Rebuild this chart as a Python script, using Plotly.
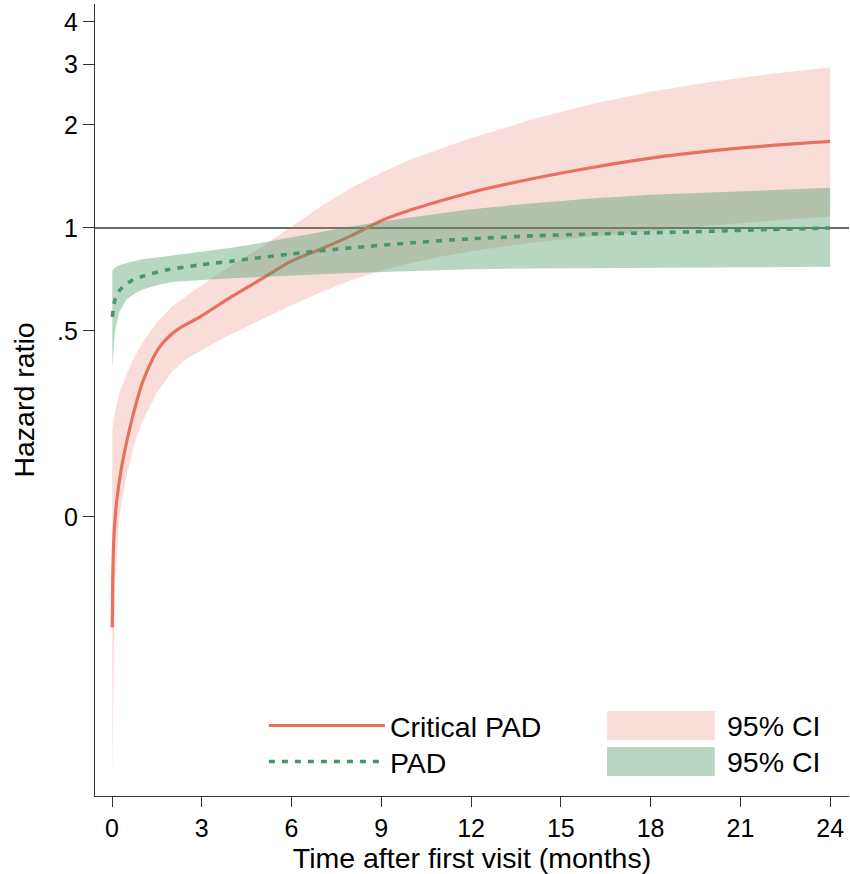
import plotly.graph_objects as go

# ---- data ----
# Critical PAD hazard ratio
crit_t = [0.01, 0.03, 0.07, 0.16, 0.32, 0.55, 0.82, 1.05, 1.6, 2.16, 2.94, 4, 5, 6, 7, 8, 9, 10, 12, 14, 16, 18, 20, 22, 24]
crit_hr = [0.068, 0.10, 0.128, 0.16, 0.20, 0.25, 0.31, 0.36, 0.45, 0.503, 0.55, 0.63, 0.71, 0.80, 0.87, 0.95, 1.05, 1.13, 1.27, 1.39, 1.50, 1.60, 1.68, 1.74, 1.79]

# PAD hazard ratio
pad_t = [0.01, 0.1, 0.27, 0.6, 1.05, 1.83, 2.94, 4, 5, 6, 8, 10, 12, 14, 16, 18, 20, 22, 24]
pad_hr = [0.55, 0.617, 0.66, 0.697, 0.724, 0.754, 0.78, 0.80, 0.82, 0.84, 0.875, 0.905, 0.93, 0.948, 0.96, 0.968, 0.978, 0.99, 1.0]

# 95% CI grid
ci_t = [0.01, 0.1, 0.25, 0.5, 0.75, 1, 1.5, 2, 2.5, 3, 4, 5, 6, 7, 8, 9, 10, 11, 12, 14, 16, 18, 20, 22, 24]
crit_hi = [0.26, 0.29, 0.33, 0.375, 0.42, 0.46, 0.53, 0.59, 0.635, 0.68, 0.78, 0.88, 1.01, 1.16, 1.31, 1.45, 1.59, 1.71, 1.83, 2.07, 2.30, 2.50, 2.67, 2.82, 2.95]
crit_lo = [0.025, 0.09, 0.145, 0.19, 0.235, 0.27, 0.33, 0.38, 0.415, 0.44, 0.49, 0.54, 0.595, 0.65, 0.705, 0.75, 0.79, 0.825, 0.855, 0.905, 0.945, 0.98, 1.015, 1.05, 1.08]
pad_hi = [0.75, 0.765, 0.78, 0.79, 0.80, 0.81, 0.82, 0.83, 0.84, 0.85, 0.875, 0.905, 0.94, 0.975, 1.01, 1.045, 1.075, 1.105, 1.135, 1.18, 1.22, 1.25, 1.27, 1.29, 1.31]
pad_lo = [0.39, 0.50, 0.57, 0.62, 0.642, 0.66, 0.68, 0.695, 0.70, 0.705, 0.713, 0.72, 0.727, 0.733, 0.739, 0.744, 0.749, 0.753, 0.757, 0.762, 0.765, 0.767, 0.768, 0.769, 0.77]

x_ticks = [0, 3, 6, 9, 12, 15, 18, 21, 24]
y_tick_vals = [0.1431, 0.5, 1, 2, 3, 4]
y_tick_text = ["0", ".5", "1", "2", "3", "4"]
ci_labels = ["95% CI", "95% CI"]

RED = "rgb(232,112,95)"
GREEN = "rgb(72,150,102)"
PINK_FILL = "rgba(232,112,95,0.24)"
GREEN_FILL = "rgba(76,154,106,0.40)"
PINK_KEY = "rgb(249,222,217)"
GREEN_KEY = "rgb(185,214,196)"
FONT = "Liberation Sans, Arial, Helvetica, sans-serif"
TITLE_SIZE = 28.5
TICK_SIZE = 25

fig = go.Figure()

fig.add_trace(go.Scatter(
    x=ci_t + ci_t[::-1], y=crit_hi + crit_lo[::-1],
    fill="toself", fillcolor=PINK_FILL, line=dict(width=0),
    mode="lines", name=ci_labels[0], showlegend=False, hoverinfo="skip"))
fig.add_trace(go.Scatter(
    x=crit_t, y=crit_hr, mode="lines", name="Critical PAD", legend="legend",
    line=dict(color=RED, width=3.2, shape="spline", smoothing=0.8)))
fig.add_trace(go.Scatter(
    x=ci_t + ci_t[::-1], y=pad_hi + pad_lo[::-1],
    fill="toself", fillcolor=GREEN_FILL, line=dict(width=0),
    mode="lines", name=ci_labels[1], showlegend=False, hoverinfo="skip"))
fig.add_trace(go.Scatter(
    x=pad_t, y=pad_hr, mode="lines", name="PAD", legend="legend2",
    line=dict(color=GREEN, width=3.6, dash="6px,7px", shape="spline", smoothing=0.8)))

# reference line at HR = 1
fig.add_shape(type="line", xref="paper", yref="y", x0=0, x1=1, y0=1, y1=1,
              line=dict(color="#3a3a3a", width=1.6), layer="below")

# CI legend keys (second legend column)
keys = [(PINK_KEY, 0.1073, 0.0707, 0.0884), (GREEN_KEY, 0.0619, 0.0253, 0.0429)]
for (col, y0, y1, yc), lab in zip(keys, ci_labels):
    fig.add_shape(type="rect", xref="paper", yref="paper", x0=0.679, x1=0.822, y0=y1, y1=y0,
                  fillcolor=col, line=dict(width=0))
    fig.add_annotation(xref="paper", yref="paper", x=0.836, y=yc, text=lab, showarrow=False,
                       xanchor="left", yanchor="middle", font=dict(size=TITLE_SIZE, family=FONT))

leg_common = dict(xanchor="left", yanchor="middle", bgcolor="rgba(0,0,0,0)",
                  itemwidth=116, font=dict(size=TITLE_SIZE))

fig.update_layout(
    width=850, height=874,
    margin=dict(l=95, r=1, t=4, b=78),
    plot_bgcolor="white", paper_bgcolor="white",
    font=dict(family=FONT, size=TITLE_SIZE, color="black"),
    showlegend=True,
    legend=dict(x=0.224, y=0.0884, **leg_common),
    legend2=dict(x=0.224, y=0.0429, **leg_common),
    xaxis=dict(range=[-0.568, 24.63], tickvals=x_ticks, ticks="outside", ticklen=10,
               tickwidth=1.3, tickcolor="#333", showline=True, linecolor="#333", linewidth=1.3,
               showgrid=False, zeroline=False, tickfont=dict(size=TICK_SIZE), automargin=False,
               title=dict(text="Time after first visit (months)", font=dict(size=TITLE_SIZE), standoff=2)),
    yaxis=dict(type="log", range=[-1.660, 0.6546], tickvals=y_tick_vals, ticktext=y_tick_text,
               ticks="outside", ticklen=11, tickwidth=1.3, tickcolor="#333",
               showline=True, linecolor="#333", linewidth=1.3, showgrid=False, zeroline=False,
               tickfont=dict(size=TICK_SIZE), automargin=False,
               title=dict(text="Hazard ratio", font=dict(size=TITLE_SIZE), standoff=14)),
)

fig.write_html("out.html", config={"displayModeBar": False},
               post_script="document.body.style.margin='0px';")
